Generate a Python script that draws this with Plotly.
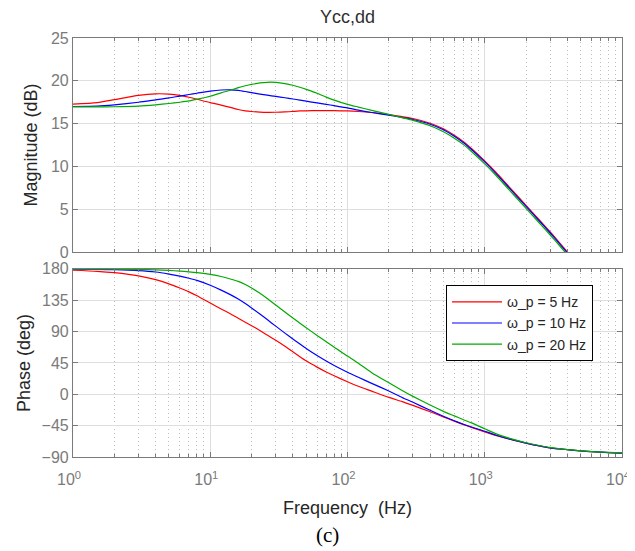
import plotly.graph_objects as go

# ---------------- data ----------------
freq_hz = [1, 1.5, 2, 3, 4, 5, 6, 7, 8,
           10, 12, 14, 16, 18, 20, 23, 26, 30, 35, 40, 45, 50, 60, 70, 80,
           100, 120, 150, 200, 250, 300, 400, 500, 600, 700, 800,
           1000, 1200, 1500, 2000, 2500, 3000, 3500, 4000, 5000, 6000, 7000, 8000, 10000]

mag_5hz = [17.27, 17.45, 17.8, 18.3, 18.48, 18.45, 18.3, 18.08, 17.85,
           17.45, 17.17, 16.9, 16.65, 16.5, 16.42, 16.35, 16.32, 16.33, 16.37, 16.43, 16.48, 16.5, 16.52, 16.52, 16.52,
           16.48, 16.42, 16.3, 16.05, 15.82, 15.6, 15.05, 14.4, 13.65, 12.9, 12.1,
           10.65, 9.35, 7.65, 5.45, 3.75, 2.35, 1.12, 0.02, -1.9, -3.4, -4.7, -5.8, -7.6]
mag_10hz = [17.0, 17.05, 17.2, 17.5, 17.78, 18.0, 18.22, 18.4, 18.55,
            18.8, 18.93, 18.95, 18.88, 18.75, 18.62, 18.45, 18.32, 18.18, 18.02, 17.88, 17.75, 17.62, 17.42, 17.25, 17.1,
            16.85, 16.58, 16.3, 16.0, 15.72, 15.48, 14.93, 14.28, 13.53, 12.78, 11.98,
            10.53, 9.23, 7.53, 5.33, 3.63, 2.23, 1.0, -0.1, -2.0, -3.5, -4.8, -5.9, -7.7]
mag_20hz = [16.95, 16.95, 16.97, 17.05, 17.2, 17.35, 17.5, 17.65, 17.85,
            18.2, 18.6, 18.9, 19.2, 19.42, 19.58, 19.75, 19.83, 19.82, 19.68, 19.48, 19.25, 19.0, 18.55, 18.1, 17.75,
            17.25, 16.93, 16.55, 16.08, 15.7, 15.38, 14.75, 14.05, 13.3, 12.55, 11.75,
            10.3, 9.0, 7.3, 5.1, 3.4, 2.0, 0.77, -0.33, -2.25, -3.7, -5.0, -6.1, -7.9]

ph_5hz = [178, 176.5, 174.5, 170, 164.5, 158.5, 152.5, 147, 141.5,
          131, 122.5, 115.5, 109, 103.5, 98.5, 91.5, 85, 77.5, 69, 61, 54, 48, 39, 32, 26.5,
          18, 11.5, 4.5, -4.5, -10.5, -16, -25, -32.5, -38.5, -43.5, -47.5,
          -54, -59, -64, -70, -74, -76.8, -78.3, -79.5, -81.3, -82.3, -83, -83.6, -84.3]
ph_10hz = [179.5, 179.2, 178.8, 177.5, 175.5, 172.5, 169.5, 166.5, 163.5,
           156.5, 149.5, 143, 136.6, 130.2, 124, 115.2, 107.2, 97.8, 87.8, 79.3, 72.1, 65.8, 55.7, 47.8, 41.4,
           31.7, 24.4, 15.7, 4.7, -4.5, -11.5, -23, -31.5, -38, -43, -47,
           -53, -58.5, -64, -70, -74, -76.8, -78.3, -79.5, -81.3, -82.3, -83, -83.6, -84.3]
ph_20hz = [179.8, 179.7, 179.5, 179, 178.5, 177.7, 176.8, 175.8, 174.7,
           172, 169, 165.5, 162, 157.5, 152.5, 145, 137.5, 128, 118, 109.5, 102, 95.5, 84.5, 75.5, 67.5,
           55, 44.5, 31, 16.5, 5.5, -3, -15.5, -24.5, -31, -36.5, -41,
           -49.5, -56.5, -63, -69.5, -73.5, -76.3, -78, -79.3, -81.1, -82.2, -82.9, -83.5, -84.2]

series_names = ["ω_p = 5 Hz", "ω_p = 10 Hz", "ω_p = 20 Hz"]
series_colors = ["#ff0000", "#0000ff", "#00aa00"]

x_tickvals = [1, 10, 100, 1000, 10000]
x_ticktext = ["10<sup>0</sup>", "10<sup>1</sup>", "10<sup>2</sup>", "10<sup>3</sup>", "10<sup>4</sup>"]
mag_ticks = [0, 5, 10, 15, 20, 25]
ph_ticks = [-90, -45, 0, 45, 90, 135, 180]

# ---------------- figure ----------------
# The page body keeps its default 8px margin, so the figure is 8px smaller
# than the window in each direction and all offsets are measured from (8, 8).
FONT = "Liberation Sans, Arial, sans-serif"
fig = go.Figure()

mags = [mag_5hz, mag_10hz, mag_20hz]
phs = [ph_5hz, ph_10hz, ph_20hz]
for name, col, m, p in zip(series_names, series_colors, mags, phs):
    fig.add_trace(go.Scatter(x=freq_hz, y=m, mode="lines", name=name,
                             line=dict(color=col, width=1.2, shape="spline", smoothing=0.6),
                             xaxis="x", yaxis="y", showlegend=False, hoverinfo="skip"))
    fig.add_trace(go.Scatter(x=freq_hz, y=p, mode="lines", name=name,
                             line=dict(color=col, width=1.2, shape="spline", smoothing=0.6),
                             xaxis="x2", yaxis="y2", showlegend=True, hoverinfo="skip"))

grid_major = "#dedede"
grid_minor = "#bdbdbd"
frame = "#7a7a7a"
tickfont = dict(family=FONT, size=16, color="#7a7a7a")
titlefont = dict(family=FONT, size=18, color="#262626")

common_x = dict(type="log", range=[0, 4], tickvals=x_tickvals, ticktext=x_ticktext,
                showline=True, linecolor=frame, linewidth=1.2, mirror="ticks",
                ticks="inside", ticklen=5, tickcolor=frame, automargin=False,
                showgrid=True, gridcolor=grid_major, gridwidth=1, zeroline=False,
                minor=dict(dtick="D1", ticks="inside", ticklen=3, tickcolor=frame,
                           showgrid=True, gridcolor=grid_minor, griddash="1px,3px", gridwidth=1),
                tickfont=tickfont)
common_y = dict(showline=True, linecolor=frame, linewidth=1.2, mirror="ticks",
                ticks="inside", ticklen=5, tickcolor=frame, automargin=False,
                showgrid=True, gridcolor=grid_major, gridwidth=1, zeroline=False,
                tickfont=tickfont)

fig.update_layout(
    width=627, height=543,
    margin=dict(l=65, r=13, t=30, b=94),
    paper_bgcolor="white", plot_bgcolor="white",
    font=dict(family=FONT, size=16, color="#262626"),
    title=dict(text="Ycc,dd", xref="paper", x=0.5, xanchor="center", y=1 - 9 / 543, yanchor="middle",
               font=dict(family=FONT, size=18, color="#303030")),
    xaxis=dict(common_x, domain=[0, 1], anchor="y", showticklabels=False),
    yaxis=dict(common_y, domain=[0.489, 1], anchor="x", range=[0, 25], tickvals=mag_ticks,
               title=dict(text="Magnitude (dB)", font=titlefont, standoff=8)),
    xaxis2=dict(common_x, domain=[0, 1], anchor="y2", matches="x",
                ticklabelshift=-4, ticklabelstandoff=8,
                title=dict(text="Frequency \u00a0(Hz)", font=titlefont, standoff=14)),
    yaxis2=dict(common_y, domain=[0, 0.449], anchor="x2", range=[-90, 180], tickvals=ph_ticks,
                title=dict(text="Phase (deg)", font=titlefont, standoff=6)),
    legend=dict(x=0.6794, y=0.41, xanchor="left", yanchor="top",
                bgcolor="white", bordercolor="#000000", borderwidth=1,
                font=dict(family=FONT, size=14, color="#262626"),
                itemwidth=50, tracegroupgap=0),
    showlegend=True,
    annotations=[dict(text="(c)", xref="paper", yref="paper", x=0.4627, y=-0.186,
                      xanchor="center", yanchor="middle", showarrow=False,
                      font=dict(family="Liberation Serif, Times New Roman, serif", size=21, color="#000000"))],
)

fig.write_html("out.html", config={"displayModeBar": False})
